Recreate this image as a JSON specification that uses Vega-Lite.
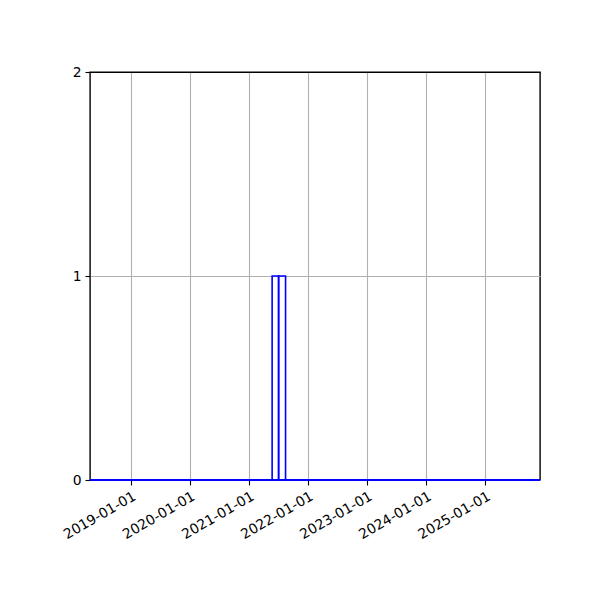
{
  "$schema": "https://vega.github.io/schema/vega-lite/v6.json",
  "width": 450,
  "height": 408,
  "autosize": "none",
  "padding": {"left": 90, "top": 72, "right": 60, "bottom": 120},
  "background": "white",
  "config": {
    "view": {"stroke": "black", "strokeWidth": 1.4},
    "axis": {
      "labelFont": "DejaVu Sans",
      "labelFontSize": 13.9,
      "labelColor": "black",
      "tickColor": "black",
      "tickSize": 5,
      "tickWidth": 1.1,
      "labelPadding": 4,
      "labelOverlap": false,
      "labelFlush": false,
      "domain": false,
      "gridColor": "#b0b0b0",
      "gridWidth": 1.1,
      "title": null
    }
  },
  "datasets": {
    "bins": [
      {"start": "2021-05-23", "end": "2021-07-02", "count": 1, "base": 0},
      {"start": "2021-07-02", "end": "2021-08-14", "count": 1, "base": 0}
    ],
    "span": [
      {"start": "2018-04-23", "end": "2025-12-04", "count": 0}
    ]
  },
  "layer": [
    {
      "data": {"name": "bins"},
      "mark": {"type": "rect", "fill": null, "fillOpacity": 0, "stroke": "#0000ff", "strokeWidth": 1.6},
      "encoding": {
        "x": {
          "field": "start",
          "type": "temporal",
          "scale": {"domain": ["2018-04-23", "2025-12-04"]},
          "axis": {
            "values": [
              {"year": 2019, "month": 1, "date": 1},
              {"year": 2020, "month": 1, "date": 1},
              {"year": 2021, "month": 1, "date": 1},
              {"year": 2022, "month": 1, "date": 1},
              {"year": 2023, "month": 1, "date": 1},
              {"year": 2024, "month": 1, "date": 1},
              {"year": 2025, "month": 1, "date": 1}
            ],
            "format": "%Y-%m-%d",
            "labelAngle": -30,
            "labelAlign": "right",
            "labelBaseline": "top",
            "labelPadding": 4
          }
        },
        "x2": {"field": "end"},
        "y": {
          "field": "count",
          "type": "quantitative",
          "scale": {"domain": [0, 2], "nice": false, "padding": 0},
          "axis": {
            "tickCount": 2,
            "gridColor": {"condition": {"test": "datum.value == 2", "value": "black"}, "value": "#b0b0b0"}
          }
        },
        "y2": {"field": "base"}
      }
    },
    {
      "data": {"name": "span"},
      "mark": {"type": "rule", "color": "#0000ff", "strokeWidth": 2},
      "encoding": {
        "x": {"field": "start", "type": "temporal"},
        "x2": {"field": "end"},
        "y": {"field": "count", "type": "quantitative"}
      }
    }
  ]
}
